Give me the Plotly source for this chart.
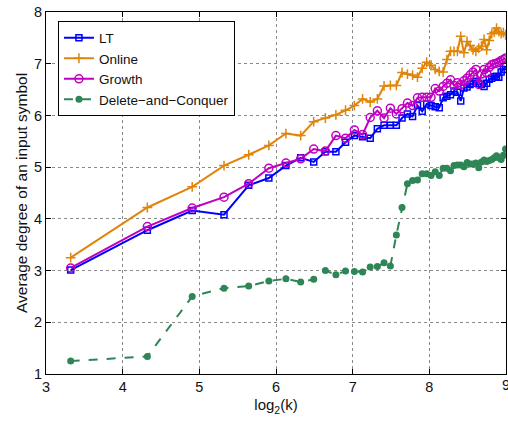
import numpy as np
import plotly.graph_objects as go

k_values = list(range(10, 520, 10))

lt = [3.01, 3.78, 4.16, 4.08, 4.65, 4.79, 5.03, 5.18, 5.10, 5.30,
      5.30, 5.48, 5.61, 5.59, 5.56, 5.74, 5.81, 5.81, 5.81, 5.95,
      6.03, 5.98, 6.19, 6.08, 6.22, 6.19, 6.17, 6.15, 6.34, 6.37,
      6.40, 6.47, 6.45, 6.28, 6.53, 6.55, 6.60, 6.62, 6.66, 6.62,
      6.60, 6.56, 6.62, 6.70, 6.72, 6.75, 6.76, 6.74, 6.84, 6.89, 6.95]

online = [3.25, 4.22, 4.62, 5.03, 5.24, 5.42, 5.65, 5.61, 5.88, 5.95,
          6.01, 6.10, 6.19, 6.32, 6.26, 6.32, 6.57, 6.58, 6.58, 6.83,
          6.80, 6.78, 6.74, 6.91, 7.03, 6.97, 6.89, 6.85, 6.84, 7.08,
          7.24, 7.24, 7.24, 7.53, 7.21, 7.43, 7.35, 7.27, 7.24, 7.30,
          7.34, 7.47, 7.27, 7.45, 7.58, 7.61, 7.69, 7.62, 7.58, 7.60, 7.56]

growth = [3.05, 3.85, 4.21, 4.42, 4.68, 4.98, 5.08, 5.16, 5.35, 5.31,
          5.61, 5.56, 5.72, 5.63, 5.96, 6.09, 5.95, 6.14, 6.03, 6.13,
          6.24, 6.19, 6.34, 6.35, 6.35, 6.35, 6.52, 6.47, 6.56, 6.62,
          6.69, 6.58, 6.63, 6.60, 6.67, 6.72, 6.78, 6.84, 6.89, 6.60,
          6.80, 6.89, 6.82, 6.93, 6.98, 7.00, 7.01, 7.03, 7.06, 7.08, 7.11]

dc = [1.25, 1.34, 2.50, 2.66, 2.70, 2.80, 2.84, 2.78, 2.83, 3.00,
      2.92, 2.99, 2.98, 2.97, 3.07, 3.08, 3.15, 3.09, 3.69, 4.22,
      4.68, 4.74, 4.75, 4.87, 4.87, 4.84, 4.91, 4.84, 4.98, 4.98,
      4.93, 5.03, 5.04, 5.04, 5.01, 5.09, 5.06, 5.06, 5.08, 4.99,
      5.10, 5.14, 5.11, 5.13, 5.15, 5.18, 5.22, 5.18, 5.15, 5.23, 5.35]

x_ticks = [3, 4, 5, 6, 7, 8, 9]
x_tick_labels = ["3", "4", "5", "6", "7", "8", ""]
last_x_label = "9"
y_ticks = [1, 2, 3, 4, 5, 6, 7, 8]

x = np.log2(np.array(k_values, dtype=float))

FONT = "Liberation Sans, Arial, Helvetica, sans-serif"
TXT = "#111111"

fig = go.Figure()
fig.add_trace(go.Scatter(
    x=x, y=lt, name="LT", mode="lines+markers",
    line=dict(color="#0000FF", width=2),
    marker=dict(symbol="square-open", size=6, color="#0000FF", line=dict(width=1.5))))
fig.add_trace(go.Scatter(
    x=x, y=online, name="Online", mode="lines+markers",
    line=dict(color="#E0850A", width=2),
    marker=dict(symbol="cross-thin-open", size=7, color="#E0850A", line=dict(width=1.5, color="#E0850A"))))
fig.add_trace(go.Scatter(
    x=x, y=growth, name="Growth", mode="lines+markers",
    line=dict(color="#C000C0", width=2),
    marker=dict(symbol="circle-open", size=8, color="#C000C0", line=dict(width=1.5))))
fig.add_trace(go.Scatter(
    x=x, y=dc, name="Delete\u2212and\u2212Conquer", mode="lines+markers",
    line=dict(color="#2E8555", width=2, dash="dash"),
    marker=dict(symbol="circle", size=7, color="#2E8555")))

axis_common = dict(
    showline=True, linecolor="black", linewidth=1, mirror="allticks",
    ticks="inside", ticklen=5, tickcolor="black",
    showgrid=True, gridcolor="#8a8a8a", griddash="dot", gridwidth=1,
    zeroline=False, tickfont=dict(family=FONT, size=14.5, color=TXT),
)

fig.update_xaxes(range=[3, 9], tickvals=x_ticks, ticktext=x_tick_labels, **axis_common,
                 title=dict(text="log<sub>2</sub>(k)", font=dict(family=FONT, size=15, color=TXT), standoff=5))
fig.update_yaxes(range=[1, 8], tickvals=y_ticks, **axis_common,
                 title=dict(text="Average degree of an input symbol", font=dict(family=FONT, size=15.5, color=TXT), standoff=2))

fig.add_annotation(x=9, y=0, xref="x", yref="paper", text=last_x_label, showarrow=False,
                   xanchor="center", yanchor="top", yshift=-1,
                   font=dict(family=FONT, size=14.5, color=TXT))

fig.update_layout(
    width=508, height=422,
    margin=dict(l=46, r=2, t=12, b=48),
    plot_bgcolor="white", paper_bgcolor="white",
    font=dict(family=FONT, size=13, color=TXT),
    legend=dict(x=0.026, y=0.974, xanchor="left", yanchor="top",
                bgcolor="white", bordercolor="black", borderwidth=1,
                font=dict(family=FONT, size=13.5, color=TXT),
                tracegroupgap=0, itemwidth=30),
    showlegend=True,
)

fig.write_html("out.html")
